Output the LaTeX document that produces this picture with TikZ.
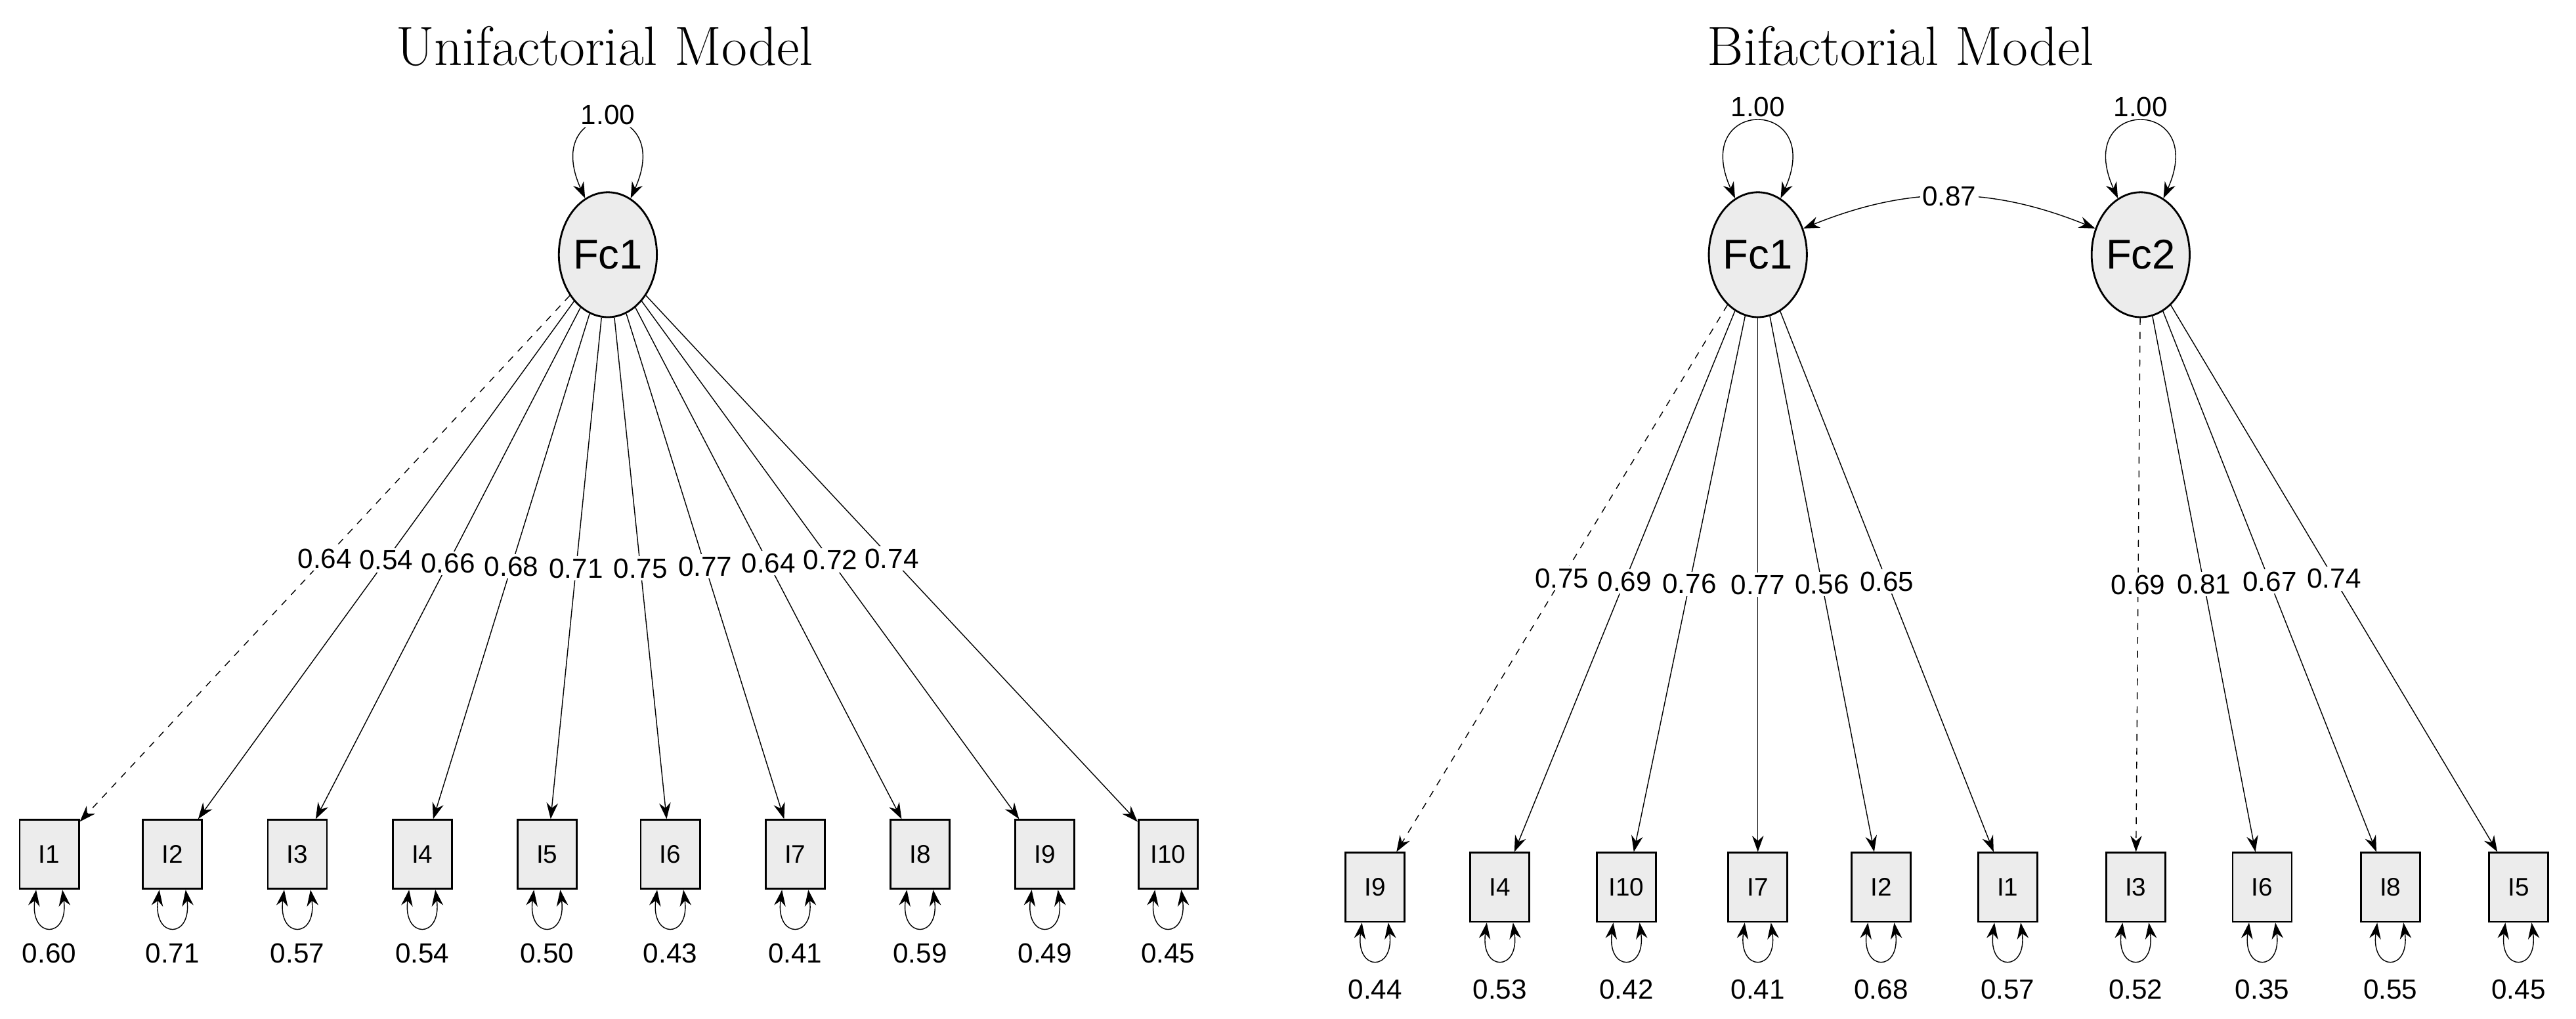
\documentclass[tikz,border=0pt]{standalone}
\usepackage{fontspec}
\setmainfont{Latin Modern Roman}
\newfontfamily\semsans{Liberation Sans}
\usetikzlibrary{arrows.meta, shapes.geometric}
\begin{document}
\begin{tikzpicture}[x=0.025cm, y=-0.025cm,
    latent/.style={draw, thick, shape=ellipse, fill=gray!15, minimum width=58*0.025cm, minimum height=76*0.025cm, inner sep=0pt, font=\semsans\fontsize{18}{20}\selectfont},
    item/.style={draw, thick, shape=rectangle, fill=gray!15, minimum width=36*0.025cm, minimum height=42*0.025cm, inner sep=0pt, font=\semsans\fontsize{11}{13}\selectfont},
    coef/.style={fill=white, inner sep=1pt, font=\semsans\fontsize{12}{14}\selectfont},
    tip/.style={-{Stealth[length=7pt, width=5pt]}},
    dtip/.style={{Stealth[length=7pt, width=5pt]}-{Stealth[length=7pt, width=5pt]}},
    title/.style={font=\fontsize{24}{28}\selectfont}]
    \useasboundingbox (0,0) rectangle (1568,620);
    % titles
    \node[title] (titleU) at (368,28) {Unifactorial Model};
    \node[title] (titleB) at (1157,28) {Bifactorial Model};
    % unifactorial model
    \node[latent] (U) at (370,155) {Fc1};
    \draw[dtip] (U.112) .. controls +(-28,-62) and +(28,-62) .. (U.68);
    \node[coef] (Uvar) at (370,70) {1.00};
    \foreach \x/\name/\load/\res [count=\i] in {30/I1/0.64/0.60, 105/I2/0.54/0.71, 181/I3/0.66/0.57,
        257/I4/0.68/0.54, 333/I5/0.71/0.50, 408/I6/0.75/0.43, 484/I7/0.77/0.41,
        560/I8/0.64/0.59, 636/I9/0.72/0.49, 711/I10/0.74/0.45} {
        \node[item] (u\i) at (\x,520) {\name};
        \ifnum\i=1
            \draw[tip, dashed] (U) -- (u\i) node[coef, pos=0.5] {\load};
        \else
            \draw[tip] (U) -- (u\i) node[coef, pos=0.5] {\load};
        \fi
        \draw[dtip] ([xshift=-8*0.025cm]u\i.south) .. controls +(-4,30) and +(4,30) .. ([xshift=8*0.025cm]u\i.south);
        \node[coef] (ur\i) at (\x,580) {\res};
    }
    % bifactorial model
    \node[latent] (B1) at (1070,155) {Fc1};
    \node[latent] (B2) at (1303,155) {Fc2};
    \draw[dtip] (B1.112) .. controls +(-28,-62) and +(28,-62) .. (B1.68);
    \node[coef] (B1var) at (1070,65) {1.00};
    \draw[dtip] (B2.112) .. controls +(-28,-62) and +(28,-62) .. (B2.68);
    \node[coef] (B2var) at (1303,65) {1.00};
    \draw[dtip] (B1.30) to[bend left=22] node[coef, pos=0.5] {0.87} (B2.150);
    \foreach \x/\name/\load/\res/\f [count=\i] in {837/I9/0.75/0.44/B1, 913/I4/0.69/0.53/B1,
        990/I10/0.76/0.42/B1, 1070/I7/0.77/0.41/B1, 1145/I2/0.56/0.68/B1, 1222/I1/0.65/0.57/B1,
        1300/I3/0.69/0.52/B2, 1377/I6/0.81/0.35/B2, 1455/I8/0.67/0.55/B2, 1533/I5/0.74/0.45/B2} {
        \node[item] (b\i) at (\x,540) {\name};
        \ifnum\i=1
            \draw[tip, dashed] (\f) -- (b\i) node[coef, pos=0.5] {\load};
        \else\ifnum\i=7
            \draw[tip, dashed] (\f) -- (b\i) node[coef, pos=0.5] {\load};
        \else
            \draw[tip] (\f) -- (b\i) node[coef, pos=0.5] {\load};
        \fi\fi
        \draw[dtip] ([xshift=-8*0.025cm]b\i.south) .. controls +(-4,30) and +(4,30) .. ([xshift=8*0.025cm]b\i.south);
        \node[coef] (br\i) at (\x,602) {\res};
    }
\end{tikzpicture}
\end{document}
